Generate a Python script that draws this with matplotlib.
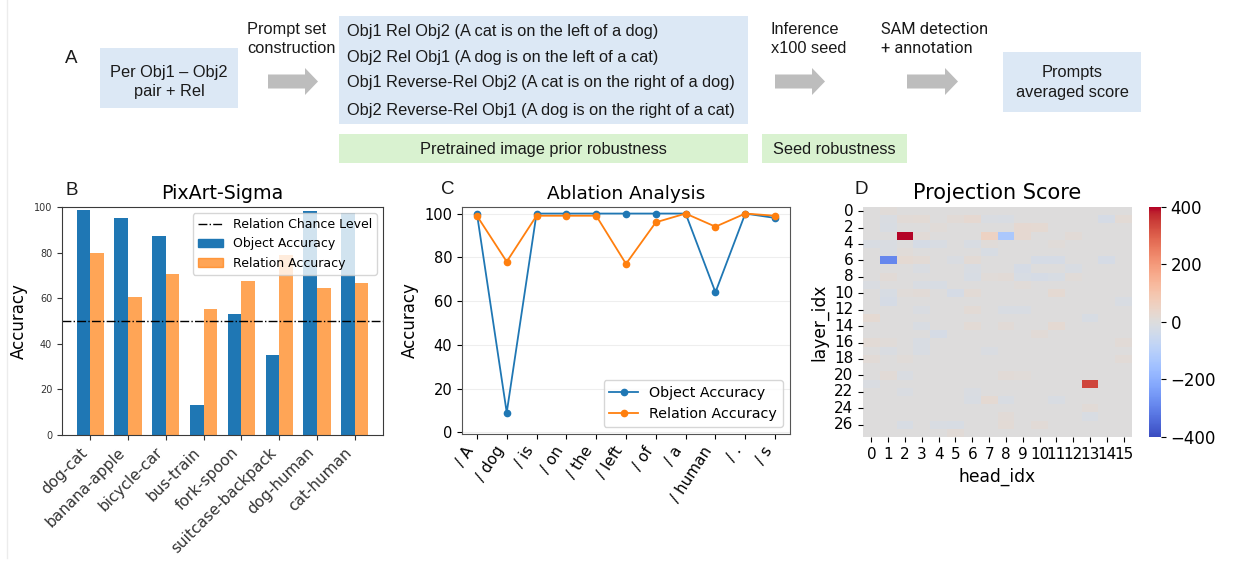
import numpy as np
import matplotlib
matplotlib.use('Agg')
import matplotlib.pyplot as plt
from matplotlib.patches import Rectangle, FancyArrow, Patch
from matplotlib.lines import Line2D
import seaborn as sns

# ---- data -------------------------------------------------------------
prompt_lines = [
    'Obj1 Rel Obj2 (A cat is on the left of a dog)',
    'Obj2 Rel Obj1 (A dog is on the left of a cat)',
    'Obj1 Reverse-Rel Obj2 (A cat is on the right of a dog)',
    'Obj2 Reverse-Rel Obj1 (A dog is on the right of a cat)',
]

pairs = ['dog-cat', 'banana-apple', 'bicycle-car', 'bus-train',
         'fork-spoon', 'suitcase-backpack', 'dog-human', 'cat-human']
obj_acc_pair = [98.7, 95.0, 87.4, 13.0, 53.1, 34.9, 98.1, 97.4]
rel_acc_pair = [79.8, 60.5, 70.6, 55.1, 67.4, 78.9, 64.6, 66.5]
chance_level = 50

tokens = ['/ A', '/ dog', '/ is', '/ on', '/ the', '/ left', '/ of',
          '/ a', '/ human', '/ .', '/ s']
obj_acc_abl = [100, 9, 100, 100, 100, 100, 100, 100, 64, 100, 98]
rel_acc_abl = [99, 78, 99, 99, 99, 77, 96, 100, 94, 100, 99]

n_layers, n_heads = 28, 16
# (layer, head, score) -- everything not listed is ~0
strong_cells = [(3, 2, 400), (3, 8, -130), (6, 1, -290), (21, 13, 340)]
faint_cells = [
    (0, 1, 12), (1, 1, -12), (1, 2, 15), (1, 3, 18), (1, 5, 15), (1, 6, 25),
    (1, 7, -12), (1, 8, -15), (1, 14, -25), (1, 15, 18), (2, 1, -15),
    (2, 4, 12), (2, 9, 28), (2, 10, 22), (3, 3, 15), (3, 7, 55), (3, 9, 25),
    (3, 12, 15), (4, 0, -15), (4, 1, -12), (4, 3, -25), (4, 4, -15),
    (4, 6, -15), (4, 7, 12), (4, 11, 12), (5, 1, -12), (5, 2, 12),
    (5, 7, -18), (6, 2, 22), (6, 3, 18), (6, 5, -12), (6, 6, 18),
    (6, 10, -22), (6, 11, -22), (6, 14, -22), (7, 3, -12), (7, 6, -15),
    (7, 9, -25), (7, 12, -15), (8, 1, 15), (8, 6, -18), (8, 7, 12),
    (8, 8, 15), (8, 9, -18), (8, 10, -22), (8, 11, -18), (8, 12, 12),
    (9, 0, -12), (9, 3, -15), (9, 4, -18), (9, 9, 12), (10, 1, -18),
    (10, 2, 12), (10, 3, 15), (10, 5, -22), (10, 6, 18), (10, 11, 22),
    (11, 1, -22), (11, 15, -15), (12, 3, -12), (12, 6, 18), (12, 8, -15),
    (12, 9, -15), (13, 0, 22), (13, 13, -18), (14, 3, -15), (14, 6, 18),
    (14, 8, 15), (14, 11, 22), (15, 4, -22), (15, 10, 15), (16, 0, 18),
    (16, 1, 12), (16, 3, -15), (16, 15, 15), (17, 1, -12), (17, 3, -15),
    (17, 7, -12), (18, 0, 15), (18, 2, 12), (18, 15, 15), (20, 1, 15),
    (20, 2, -12), (20, 8, 15), (20, 9, 12), (21, 0, -12), (22, 2, -12),
    (22, 6, -12), (23, 6, -15), (23, 7, 22), (23, 8, -15), (23, 11, -15),
    (24, 13, 15), (25, 8, 15), (25, 13, -15), (26, 2, -18), (26, 4, -15),
    (26, 5, -18), (26, 8, 18), (26, 10, 15), (27, 5, 15),
]

# ---- figure -----------------------------------------------------------
W, H = 1233, 561
fig = plt.figure(figsize=(W / 100, H / 100), dpi=100)


def px_axes(x0, y0, x1, y1):
    # axes from pixel box (top-left origin)
    return fig.add_axes([x0 / W, 1 - y1 / H, (x1 - x0) / W, (y1 - y0) / H])


BLUE_BOX = '#dce8f5'
GREEN_BOX = '#d9f2d0'
ARROW = '#bdbdbd'
SANS = 'Liberation Sans'

# panel A: flow diagram drawn in pixel coordinates
ax0 = fig.add_axes([0, 0, 1, 1])
ax0.set_xlim(0, W)
ax0.set_ylim(H, 0)
ax0.axis('off')


def box(x0, y0, x1, y1, color):
    ax0.add_patch(Rectangle((x0, y0), x1 - x0, y1 - y0, facecolor=color,
                            edgecolor='none'))


def arrow(x0, x1, y):
    ax0.add_patch(FancyArrow(x0, y, x1 - x0, 0, width=14, head_width=27,
                             head_length=13, length_includes_head=True,
                             color=ARROW, lw=0))


def txt(x, y, s, ha='left', fs=11.8, family=SANS):
    ax0.text(x, y, s, ha=ha, va='center', fontsize=fs, family=family,
             color='#1a1a1a')


ax0.plot([7, 7], [0, 558], color='#ececec', lw=1)

txt(71, 58, 'A', ha='center', fs=13.5)
box(100, 48, 238, 108, BLUE_BOX)
txt(169, 72, 'Per Obj1 \u2013 Obj2', ha='center')
txt(169, 91, 'pair + Rel', ha='center')

txt(247, 29, 'Prompt set')
txt(247, 48, 'construction')
arrow(268, 318, 81.5)

box(339, 16, 748, 124, BLUE_BOX)
for yy, line in zip([31, 57, 82, 110], prompt_lines):
    txt(347, yy, line)
box(339, 134, 748, 163, GREEN_BOX)
txt(543, 149, 'Pretrained image prior robustness', ha='center')

txt(771, 29, 'Inference')
txt(771, 48, 'x100 seed')
arrow(775, 825, 81.5)
box(762, 134, 907, 163, GREEN_BOX)
txt(834, 149, 'Seed robustness', ha='center')

txt(881, 29, 'SAM detection', family='Roboto')
txt(881, 48, '+ annotation', family='Roboto')
arrow(907, 958, 81.5)

box(1003, 52, 1141, 112, BLUE_BOX)
txt(1072, 72, 'Prompts', ha='center')
txt(1072, 92, 'averaged score', ha='center')

# panel letters
for lx, ly, lab in [(72, 190, 'B'), (448, 189, 'C'), (861, 189, 'D')]:
    txt(lx, ly, lab, ha='center', fs=13.5)

SPINE = '#3a3a3a'

# panel B: PixArt-Sigma bars
axb = px_axes(62, 207, 383, 435)
x = np.arange(len(pairs))
w = 0.36
axb.bar(x - w / 2, obj_acc_pair, w, color='#1f77b4')
axb.bar(x + w / 2, rel_acc_pair, w, color='#ff7f0e', alpha=0.7)
axb.axhline(chance_level, color='k', ls='-.', lw=1)
axb.set_ylim(0, 100)
axb.set_yticks(range(0, 101, 20))
axb.set_xticks(x)
axb.set_xticklabels(pairs, rotation=45, ha='right', fontsize=11)
axb.tick_params(axis='y', labelsize=7, colors='#333333')
axb.tick_params(axis='x', colors='#333333')
axb.set_ylabel('Accuracy', fontsize=12)
axb.set_title('PixArt-Sigma', fontsize=13.7)
for s in axb.spines.values():
    s.set_color(SPINE)
handles = [Line2D([], [], color='k', ls='-.', lw=1),
           Patch(color='#1f77b4'), Patch(color='#ff7f0e', alpha=0.7)]
axb.legend(handles, ['Relation Chance Level', 'Object Accuracy',
                     'Relation Accuracy'], loc='upper right', fontsize=9)

# panel C: ablation analysis
axc = px_axes(462, 207, 790, 434)
xt = np.arange(len(tokens))
axc.plot(xt, obj_acc_abl, '-o', color='#1f77b4', ms=4.5, lw=1.3,
         label='Object Accuracy')
axc.plot(xt, rel_acc_abl, '-o', color='#ff7f0e', ms=4.5, lw=1.3,
         label='Relation Accuracy')
axc.grid(axis='y', color='#eeeeee', lw=0.8)
axc.set_axisbelow(True)
axc.set_ylim(-0.8, 103)
axc.set_yticks(range(0, 101, 20))
axc.set_xticks(xt)
axc.set_xticklabels(tokens, rotation=57, ha='right', fontsize=11)
axc.tick_params(axis='y', labelsize=10.5)
axc.set_ylabel('Accuracy', fontsize=12)
axc.set_title('Ablation Analysis', fontsize=13.3)
for s in axc.spines.values():
    s.set_color('#555555')
axc.legend(loc='lower right', fontsize=10.3)

# panel D: projection score heatmap
proj = np.zeros((n_layers, n_heads))
for r, c, v in faint_cells + strong_cells:
    proj[r, c] = v
axd = px_axes(863, 207, 1132, 437)
cax = px_axes(1149, 207, 1161, 437)
sns.heatmap(proj, cmap='coolwarm', vmin=-400, vmax=400, ax=axd,
            cbar_ax=cax, xticklabels=1, yticklabels=2)
axd.set_yticklabels(range(0, n_layers, 2), rotation=0, fontsize=11)
axd.set_xticklabels(range(n_heads), rotation=0, fontsize=11)
axd.set_xlabel('head_idx', fontsize=12.3)
axd.set_ylabel('layer_idx', fontsize=12.3)
axd.set_title('Projection Score', fontsize=15)
cax.set_yticks([-400, -200, 0, 200, 400])
cax.tick_params(labelsize=12)

fig.savefig('out.png', dpi=100)
